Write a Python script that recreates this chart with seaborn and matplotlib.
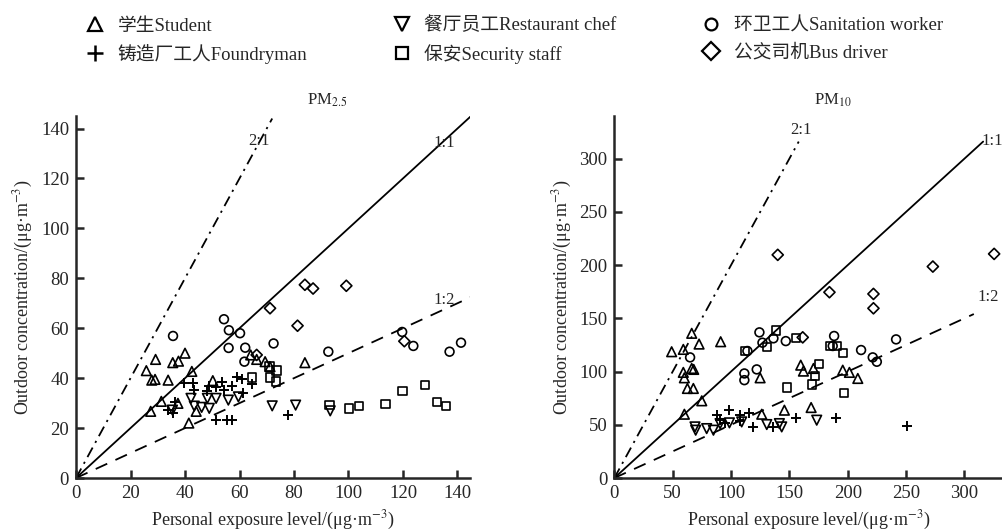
import numpy as np
import matplotlib
matplotlib.use("Agg")
import matplotlib.pyplot as plt
from matplotlib.lines import Line2D
import pandas as pd
import seaborn as sns

# ---------------- data ----------------
groups = ["Student", "Foundryman", "Restaurant chef", "Security staff",
          "Sanitation worker", "Bus driver"]
labels = ["学生Student", "铸造厂工人Foundryman", "餐厅员工Restaurant chef",
          "保安Security staff", "环卫工人Sanitation worker", "公交司机Bus driver"]
markers = {"Student": "^", "Foundryman": "+", "Restaurant chef": "v",
           "Security staff": "s", "Sanitation worker": "o", "Bus driver": "D"}
msize = {"^": 48, "v": 48, "o": 40, "s": 36, "D": 32, "+": 50}

# PM2.5
pm25_student_x = [25.8, 29.2, 27.8, 29.0, 33.8, 35.5, 37.6, 40.0, 42.5, 31.3, 27.4, 37.4, 41.4, 44.1, 50.2, 64.1, 66.3, 69.4, 71.2, 84.0]
pm25_student_y = [43.0, 47.5, 39.2, 39.5, 39.2, 46.2, 46.8, 50.0, 42.7, 30.7, 26.7, 29.9, 22.0, 26.7, 39.0, 49.3, 47.5, 46.6, 44.6, 46.2]
pm25_foundry_x = [39.7, 43.4, 48.0, 51.3, 53.7, 54.4, 57.4, 59.2, 60.8, 64.5, 48.9, 36.3, 33.6, 35.7, 51.3, 55.3, 57.1, 77.9, 61.2, 43.0]
pm25_foundry_y = [37.9, 35.2, 34.9, 36.5, 38.6, 35.2, 36.8, 40.6, 39.5, 37.6, 36.8, 30.5, 27.2, 25.9, 23.4, 23.2, 23.2, 25.2, 33.9, 38.2]
pm25_chef_x = [35.4, 42.2, 43.4, 46.1, 48.2, 48.9, 51.4, 55.9, 59.6, 72.0, 80.6, 93.3]
pm25_chef_y = [27.2, 31.9, 28.8, 28.3, 31.9, 27.9, 31.9, 31.2, 32.5, 28.9, 29.2, 26.9]
pm25_security_x = [64.7, 71.0, 71.2, 73.6, 73.4, 93.0, 100.3, 103.9, 113.6, 119.8, 128.1, 132.4, 135.7]
pm25_security_y = [40.2, 44.6, 40.2, 43.0, 38.6, 29.2, 27.8, 28.9, 29.6, 34.8, 37.2, 30.5, 28.9]
pm25_sanit_x = [35.6, 54.3, 56.1, 60.2, 56.0, 62.1, 61.8, 72.5, 92.6, 119.7, 123.8, 137.1, 141.3]
pm25_sanit_y = [56.9, 63.6, 59.2, 58.0, 52.1, 52.2, 46.6, 53.9, 50.6, 58.5, 52.9, 50.6, 54.2]
pm25_bus_x = [66.3, 71.2, 84.0, 87.0, 99.2, 81.3, 120.5]
pm25_bus_y = [49.3, 68.0, 77.4, 75.9, 77.0, 61.0, 54.8]

# PM10
pm10_student_x = [49.1, 59.1, 66.3, 72.6, 59.1, 60.0, 66.3, 68.0, 62.6, 67.7, 74.9, 60.0, 91.1, 124.9, 126.3, 145.7, 159.7, 162.0, 170.6, 168.6, 195.7, 201.4, 208.6]
pm10_student_y = [118.6, 120.8, 135.9, 125.8, 99.2, 94.1, 102.9, 102.0, 84.1, 84.1, 72.5, 59.9, 128.0, 94.1, 59.9, 63.7, 106.0, 100.4, 102.9, 66.2, 101.3, 99.2, 93.5]
pm10_foundry_x = [87.7, 98.6, 107.7, 115.7, 118.6, 107.7, 90.6, 155.7, 190.0, 250.6, 136.3, 94.9]
pm10_foundry_y = [59.0, 63.7, 59.6, 60.6, 48.0, 53.7, 54.3, 55.9, 55.9, 49.0, 48.0, 52.1]
pm10_chef_x = [69.1, 69.7, 79.1, 84.9, 90.6, 98.6, 109.1, 130.6, 141.4, 143.4, 173.4]
pm10_chef_y = [48.0, 44.9, 46.4, 44.9, 51.1, 51.8, 52.7, 50.2, 51.1, 48.0, 54.3]
pm10_security_x = [112.0, 130.6, 138.3, 155.7, 184.9, 190.6, 195.7, 175.4, 172.0, 169.1, 147.7, 196.9]
pm10_security_y = [119.5, 123.3, 138.4, 131.8, 124.0, 124.0, 117.7, 107.0, 95.7, 87.9, 85.0, 80.0]
pm10_sanit_x = [64.9, 111.4, 111.4, 122.0, 124.3, 126.9, 136.3, 146.9, 188.3, 187.1, 211.4, 221.4, 224.9, 241.4, 114.0]
pm10_sanit_y = [113.3, 98.2, 91.9, 102.0, 136.8, 127.1, 131.2, 128.6, 133.4, 124.0, 120.2, 113.3, 109.2, 130.2, 119.3]
pm10_bus_x = [140.0, 161.4, 184.3, 222.0, 222.0, 272.9, 325.4]
pm10_bus_y = [209.6, 132.1, 174.5, 172.9, 159.4, 198.6, 210.5]

pm25_ticks = [0, 20, 40, 60, 80, 100, 120, 140]
pm10_ticks = [0, 50, 100, 150, 200, 250, 300]


def make_df(xs, ys):
    rows = []
    for g, x, y in zip(groups, xs, ys):
        for a, b in zip(x, y):
            rows.append((g, a, b))
    return pd.DataFrame(rows, columns=["group", "personal", "outdoor"])


df25 = make_df([pm25_student_x, pm25_foundry_x, pm25_chef_x, pm25_security_x, pm25_sanit_x, pm25_bus_x],
               [pm25_student_y, pm25_foundry_y, pm25_chef_y, pm25_security_y, pm25_sanit_y, pm25_bus_y])
df10 = make_df([pm10_student_x, pm10_foundry_x, pm10_chef_x, pm10_security_x, pm10_sanit_x, pm10_bus_x],
               [pm10_student_y, pm10_foundry_y, pm10_chef_y, pm10_security_y, pm10_sanit_y, pm10_bus_y])

# ---------------- style ----------------
sns.set_style("ticks")
plt.rcParams['font.family'] = ['Liberation Serif', 'Noto Sans CJK SC', 'DejaVu Sans']
plt.rcParams['mathtext.fontset'] = 'stix'

fig = plt.figure(figsize=(10.03, 5.31), dpi=100)
ax1 = fig.add_axes([0.0758, 0.0998, 0.3928, 0.6817])
ax2 = fig.add_axes([0.6125, 0.0998, 0.3875, 0.6817])


def draw_panel(ax, df, lim, ticks, title, title_x, lab):
    for g in groups:
        sub = df[df.group == g]
        m = markers[g]
        if m == "+":
            sns.scatterplot(data=sub, x="personal", y="outdoor", marker="+", s=msize[m],
                            color="black", linewidth=1.4, ax=ax, legend=False)
        else:
            sns.scatterplot(data=sub, x="personal", y="outdoor", marker=m, s=msize[m],
                            facecolor="none", edgecolor="black", linewidth=1.2,
                            ax=ax, legend=False)
    # reference ratio lines
    e21, e11, e12 = lab["ends"]
    ax.plot([0, e21 / 2], [0, e21], color="black", lw=1.3, ls=(0, (6, 3, 1.2, 3)))
    ax.plot([0, e11], [0, e11], color="black", lw=1.3, ls="-")
    ax.plot([0, e12], [0, e12 / 2], color="black", lw=1.3, ls=(0, (7, 5)))
    for txt, (tx, ty) in zip(["2:1", "1:1", "1:2"], lab["pos"]):
        ax.text(tx, ty, txt, fontsize=12, ha="center", va="center")

    ax.set_xlim(0, lim[0])
    ax.set_ylim(0, lim[1])
    ax.set_xticks(ticks)
    ax.set_yticks(ticks)
    ax.tick_params(direction="in", length=6, width=1.8, labelsize=13.5, pad=5)
    for s in ["left", "bottom"]:
        ax.spines[s].set_linewidth(1.8)
    sns.despine(ax=ax)
    ax.set_xlabel(r"Personal exposure level/(μg·m$^{-3}$)", fontsize=13, labelpad=5)
    ax.set_ylabel(r"Outdoor concentration/(μg·m$^{-3}$)", fontsize=13, labelpad=4)
    ax.text(title_x, 1.044, title, transform=ax.get_xaxis_transform(),
            fontsize=12, ha="center", va="center")


draw_panel(ax1, df25, (144.6, 145), pm25_ticks, r"PM$_{2.5}$", 92,
           {"ends": (144, 145, 145), "pos": [(67, 135), (135, 134), (135, 71.5)]})
draw_panel(ax2, df10, (333, 340), pm10_ticks, r"PM$_{10}$", 187,
           {"ends": (316, 316, 308), "pos": [(160, 327), (324, 317), (320, 170)]})

# ---------------- legend ----------------
handles = []
for g, lab in zip(groups, labels):
    m = markers[g]
    if m == "+":
        h = Line2D([], [], ls="none", marker="+", color="black", markersize=11, mew=1.8, label=lab)
    else:
        h = Line2D([], [], ls="none", marker=m, markerfacecolor="none", markeredgecolor="black",
                   markersize={"^": 10, "v": 10, "o": 8.5, "s": 8.5, "D": 9}[m], mew=1.6, label=lab)
    handles.append(h)

fig.legend(handles=handles, ncol=3, loc="upper left", bbox_to_anchor=(0.0685, 1.0),
           frameon=False, fontsize=13.5, columnspacing=4.55, handletextpad=0.7,
           labelspacing=0.5, handlelength=1.0)

fig.savefig("out.png", dpi=100)
